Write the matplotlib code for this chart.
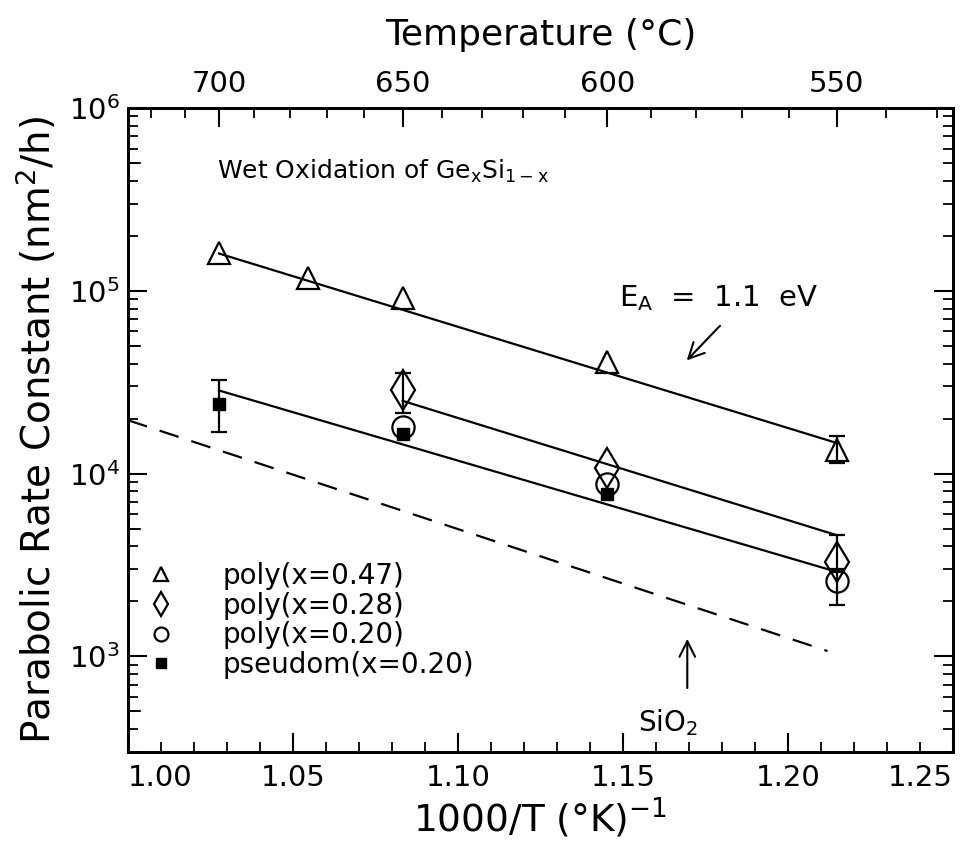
import numpy as np
import matplotlib
matplotlib.use("Agg")
import matplotlib.pyplot as plt
import matplotlib.transforms as mtransforms
from matplotlib.lines import Line2D

plt.rcParams['font.family'] = ['DejaVu Sans']
plt.rcParams['mathtext.fontset'] = 'dejavusans'

# ---------------- data ----------------
T_tri = [700, 675, 650, 600, 550]            # poly x=0.47
k_tri = [1.62e5, 1.18e5, 9.1e4, 4.1e4, 1.35e4]
tri_err_T = [550]
tri_err_lo = [1.14e4]
tri_err_hi = [1.6e4]

T_dia = [650, 600, 550]                      # poly x=0.28
k_dia = [2.85e4, 1.08e4, 3.3e3]
dia_err_T = [650, 550]
dia_err_lo = [2.15e4, 2.9e3]
dia_err_hi = [3.56e4, 4.6e3]

T_cir = [650, 600, 550]                      # poly x=0.20
k_cir = [1.8e4, 8.8e3, 2.6e3]
cir_err_T = [550]
cir_err_lo = [1.92e3]
cir_err_hi = [3.0e3]

T_sq = [700, 650, 600]                       # pseudomorphic x=0.20
k_sq = [2.4e4, 1.65e4, 7.7e3]
sq_err_T = [700]
sq_err_lo = [1.68e4]
sq_err_hi = [3.25e4]

fit047_T = [700, 550]
fit047_k = [1.6e5, 1.47e4]
fit028_T = [650, 550]
fit028_k = [2.5e4, 4.6e3]
fit020_T = [700, 550]
fit020_k = [2.85e4, 2.9e3]
sio2_x = [1.00, 1.212]
sio2_k = [1.96e4, 1.07e3]

legend_labels = ['poly(x=0.47)', 'poly(x=0.28)', 'poly(x=0.20)', 'pseudom(x=0.20)']
xticks_bottom = [1.00, 1.05, 1.10, 1.15, 1.20, 1.25]
xticklabels_bottom = ['1.00', '1.05', '1.10', '1.15', '1.20', '1.25']
top_T_major = [700, 650, 600, 550]
top_T_minor = list(range(530, 730, 10))


def inv(T):
    return 1000.0 / (np.asarray(T, dtype=float) + 273.15)


def yerr(k, lo, hi):
    k = np.asarray(k); lo = np.asarray(lo); hi = np.asarray(hi)
    return np.vstack([k - lo, hi - k])


# ---------------- figure ----------------
fig = plt.figure(figsize=(9.65, 8.42), dpi=100)
ax = fig.add_axes([0.1326, 0.1069, 0.8549, 0.7648])
ax.set_yscale('log')
ax.set_xlim(1.00, 1.25)
ax.set_ylim(300, 1e6)

lw = 1.6
mk = dict(color='black', linestyle='none', markerfacecolor='none',
          markeredgecolor='black', markeredgewidth=1.6)

# fit lines
ax.plot(inv(fit047_T), fit047_k, color='black', lw=lw)
ax.plot(inv(fit028_T), fit028_k, color='black', lw=lw)
ax.plot(inv(fit020_T), fit020_k, color='black', lw=lw)
ax.plot(sio2_x, sio2_k, color='black', lw=lw, linestyle=(0, (9, 6)))

# error bars
eb = dict(fmt='none', ecolor='black', elinewidth=1.6, capsize=6, capthick=1.6)
ax.errorbar(inv(tri_err_T), [k_tri[-1]], yerr=yerr([k_tri[-1]], tri_err_lo, tri_err_hi), **eb)
ax.errorbar(inv(dia_err_T), [k_dia[0], k_dia[2]],
            yerr=yerr([k_dia[0], k_dia[2]], dia_err_lo, dia_err_hi), **eb)
ax.errorbar(inv(cir_err_T), [k_cir[-1]], yerr=yerr([k_cir[-1]], cir_err_lo, cir_err_hi), **eb)
ax.errorbar(inv(sq_err_T), [k_sq[0]], yerr=yerr([k_sq[0]], sq_err_lo, sq_err_hi), **eb)

# markers
ax.plot(inv(T_tri), k_tri, marker='^', markersize=16, **mk)
ax.plot(inv(T_dia), k_dia, marker='d', markersize=20, **mk)
ax.plot(inv(T_cir), k_cir, marker='o', markersize=16, **mk)
ax.plot(inv(T_sq), k_sq, marker='s', markersize=9, color='black', linestyle='none')

# legend
handles = [
    Line2D([], [], marker='^', markersize=10, **mk),
    Line2D([], [], marker='d', markersize=12, **mk),
    Line2D([], [], marker='o', markersize=10, **mk),
    Line2D([], [], marker='s', markersize=7, color='black', linestyle='none'),
]
ax.legend(handles, legend_labels, loc='upper left', bbox_to_anchor=(0.0, 0.325),
          frameon=False, fontsize=20, handlelength=1.0, handletextpad=1.7,
          labelspacing=0.06, borderpad=0.2)

# bottom axis ticks
ax.set_xticks(xticks_bottom)
ax.set_xticklabels(xticklabels_bottom)
ax.set_xticks(np.arange(1.00, 1.2501, 0.01), minor=True)
ax.tick_params(axis='both', which='major', direction='in', length=14, width=1.5,
               labelsize=21, top=False, right=True, pad=9)
ax.tick_params(axis='both', which='minor', direction='in', length=7, width=1.3,
               top=False, right=True)
ax.tick_params(axis='y', which='major', pad=6)
tl = ax.get_xticklabels()
tl[0].set_horizontalalignment('left')
tl[-1].set_horizontalalignment('right')

# medium ticks at 5 x 10^n on the left
blend = mtransforms.blended_transform_factory(ax.transAxes, ax.transData)
for v in [500, 5e3, 5e4, 5e5]:
    ax.plot([0, 0.014], [v, v], transform=blend, color='black', lw=1.3, clip_on=False)

for s in ax.spines.values():
    s.set_linewidth(2.0)

ax.set_xlabel('1000/T (°K)$^{-1}$', fontsize=27, labelpad=2)
ax.set_ylabel('Parabolic Rate Constant (nm$^2$/h)', fontsize=28)
ax.yaxis.set_label_coords(-0.084, 0.5)

# top axis: temperature
axt = ax.twiny()
axt.set_xlim(ax.get_xlim())
axt.set_xticks(inv(top_T_major))
axt.set_xticklabels([str(t) for t in top_T_major])
axt.set_xticks(inv(top_T_minor), minor=True)
axt.tick_params(axis='x', which='major', direction='in', length=14, width=1.5,
                labelsize=21, pad=7)
axt.tick_params(axis='x', which='minor', direction='in', length=7, width=1.3)
axt.set_xlabel('Temperature (°C)', fontsize=26, labelpad=18)
for s in axt.spines.values():
    s.set_linewidth(2.0)

# annotations
ax.text(0.108, 0.902, r'Wet Oxidation of Ge$_\mathrm{x}$Si$_\mathrm{1-x}$', transform=ax.transAxes,
        fontsize=18, ha='left', va='center')
ax.text(0.595, 0.705, r'E$_\mathrm{A}$  =  1.1  eV', transform=ax.transAxes,
        fontsize=21, ha='left', va='center')
ax.annotate('', xy=(0.675, 0.605), xytext=(0.72, 0.665), xycoords='axes fraction',
            arrowprops=dict(arrowstyle='->', color='black', lw=1.5, mutation_scale=28))
ax.annotate('', xy=(0.678, 0.18), xytext=(0.678, 0.095), xycoords='axes fraction',
            arrowprops=dict(arrowstyle='->', color='black', lw=1.5, mutation_scale=28))
ax.text(0.655, 0.045, 'SiO$_2$', transform=ax.transAxes, fontsize=20,
        ha='center', va='center')

fig.savefig('out.png', dpi=100)
